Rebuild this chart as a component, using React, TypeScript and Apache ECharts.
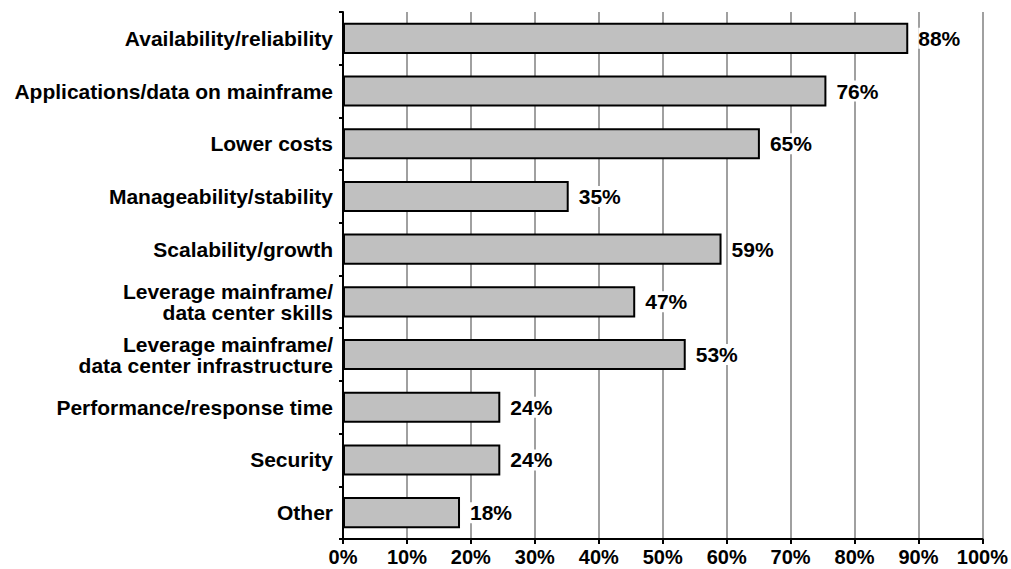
import React, { useEffect, useRef } from "react";
import * as echarts from "echarts";

const categories = [
  "Availability/reliability",
  "Applications/data on mainframe",
  "Lower costs",
  "Manageability/stability",
  "Scalability/growth",
  "Leverage mainframe/\ndata center skills",
  "Leverage mainframe/\ndata center infrastructure",
  "Performance/response time",
  "Security",
  "Other",
];
// bar lengths as drawn in the picture
const barValues = [88.4, 75.6, 65.2, 35.3, 59.2, 45.7, 53.6, 24.6, 24.6, 18.3];
// printed value labels
const valueLabels = ["88%", "76%", "65%", "35%", "59%", "47%", "53%", "24%", "24%", "18%"];
const xTicks = [0, 10, 20, 30, 40, 50, 60, 70, 80, 90, 100];

const FONT = "'Liberation Sans', Arial, Helvetica, sans-serif";

export default function App() {
  const ref = useRef<HTMLDivElement>(null);
  useEffect(() => {
    if (!ref.current) return;
    const chart = echarts.init(ref.current, null, { renderer: "svg" });
    chart.setOption({
      animation: false,
      backgroundColor: "#ffffff",
      grid: { left: 343, right: 28, top: 12, bottom: 30, containLabel: false },
      xAxis: {
        type: "value",
        min: xTicks[0],
        max: xTicks[xTicks.length - 1],
        interval: 10,
        axisLine: { show: true, lineStyle: { color: "#000", width: 2 } },
        axisTick: { show: true, length: 5, lineStyle: { color: "#000", width: 2 } },
        axisLabel: {
          formatter: (v: number) => `${v}%`,
          color: "#000",
          fontFamily: FONT,
          fontWeight: "bold",
          fontSize: 20,
          margin: 8,
        },
        splitLine: { show: true, lineStyle: { color: "#a0a0a0", width: 2 } },
      },
      yAxis: {
        type: "category",
        data: categories,
        inverse: true,
        axisLine: { show: true, lineStyle: { color: "#000", width: 2 } },
        axisTick: { show: true, length: 4, alignWithLabel: false, lineStyle: { color: "#000", width: 2 } },
        axisLabel: {
          color: "#000",
          fontFamily: FONT,
          fontWeight: "bold",
          fontSize: 21,
          lineHeight: 21,
          margin: 10,
          align: "right",
        },
        splitLine: { show: false },
      },
      series: [
        {
          type: "bar",
          data: barValues,
          barWidth: "59%",
          itemStyle: { color: "#c0c0c0", borderColor: "#000", borderWidth: 2 },
          label: {
            show: true,
            position: "right",
            distance: 10,
            formatter: (p: any) => valueLabels[p.dataIndex],
            color: "#000",
            fontFamily: FONT,
            fontWeight: "bold",
            fontSize: 21,
            backgroundColor: "#ffffff",
            padding: [0, 0, 0, 0],
          },
        },
      ],
    });
    return () => chart.dispose();
  }, []);
  return <div ref={ref} style={{ width: 1011, height: 569, position: "absolute", left: 0, top: 0 }} />;
}
